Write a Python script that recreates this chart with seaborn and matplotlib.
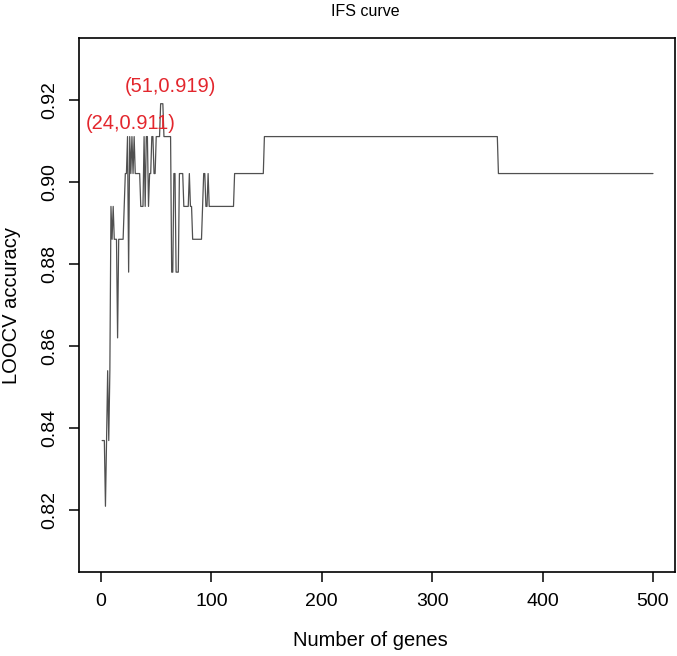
import pandas as pd
import matplotlib
matplotlib.use("Agg")
import matplotlib.pyplot as plt
import seaborn as sns

# number of genes and LOOCV accuracy
genes = list(range(1, 101)) + [120, 121, 147, 148, 359, 360, 500]
accuracy = [
    0.837, 0.837, 0.837, 0.821, 0.837, 0.854, 0.837, 0.854, 0.894, 0.886,
    0.894, 0.886, 0.886, 0.886, 0.862, 0.886, 0.886, 0.886, 0.886, 0.886,
    0.894, 0.902, 0.902, 0.911, 0.878, 0.911, 0.902, 0.911, 0.902, 0.911,
    0.902, 0.902, 0.902, 0.902, 0.902, 0.894, 0.894, 0.894, 0.911, 0.894,
    0.911, 0.911, 0.894, 0.902, 0.902, 0.911, 0.911, 0.902, 0.902, 0.911,
    0.911, 0.911, 0.911, 0.919, 0.919, 0.919, 0.911, 0.911, 0.911, 0.911,
    0.911, 0.911, 0.911, 0.878, 0.878, 0.902, 0.902, 0.878, 0.878, 0.878,
    0.902, 0.902, 0.902, 0.902, 0.894, 0.894, 0.894, 0.894, 0.894, 0.902,
    0.894, 0.894, 0.886, 0.886, 0.886, 0.886, 0.886, 0.886, 0.886, 0.886,
    0.886, 0.894, 0.902, 0.902, 0.894, 0.894, 0.902, 0.894, 0.894, 0.894,
    0.894, 0.902, 0.902, 0.911, 0.911, 0.902, 0.902,
]
labels = ["(51,0.919)", "(24,0.911)"]
label_x = [63, 27]
label_y = [0.9232, 0.9142]

df = pd.DataFrame({"genes": genes, "accuracy": accuracy})

sns.set_style("ticks")
plt.rcParams["font.family"] = ["Liberation Sans", "DejaVu Sans"]
plt.rcParams["text.color"] = "black"
plt.rcParams["xtick.color"] = "black"
plt.rcParams["ytick.color"] = "black"

fig = plt.figure(figsize=(6.77, 6.56), dpi=100)
ax = fig.add_axes([79 / 677, 1 - 572 / 656, 596 / 677, 534 / 656])

sns.lineplot(data=df, x="genes", y="accuracy", ax=ax, color="#505050",
             linewidth=0.9, estimator=None)

for txt, lx, ly in zip(labels, label_x, label_y):
    ax.text(lx, ly, txt, color="#e3262d", fontsize=14.5, ha="center", va="center")

ax.set_xlim(-19.96, 519.96)
ax.set_ylim(0.805, 0.935)
ax.set_xticks([0, 100, 200, 300, 400, 500])
ax.set_yticks([0.82, 0.84, 0.86, 0.88, 0.90, 0.92])
ax.set_yticklabels(["0.82", "0.84", "0.86", "0.88", "0.90", "0.92"],
                   rotation=90, va="center")
ax.tick_params(axis="both", labelsize=14, length=7, width=1.1, pad=8,
               colors="black")
ax.set_xlabel("")
ax.set_ylabel("")
for s in ax.spines.values():
    s.set_visible(True)
    s.set_linewidth(1.2)
    s.set_color("black")

fig.text(365 / 677, 1 - 12 / 656, "IFS curve", fontsize=11.5, ha="center", va="center")
fig.text(370 / 677, 1 - 640 / 656, "Number of genes", fontsize=14.5,
         ha="center", va="center")
fig.text(12 / 677, 1 - 305 / 656, "LOOCV accuracy", fontsize=14.5,
         ha="center", va="center", rotation=90)

fig.savefig("out.png", dpi=100)
